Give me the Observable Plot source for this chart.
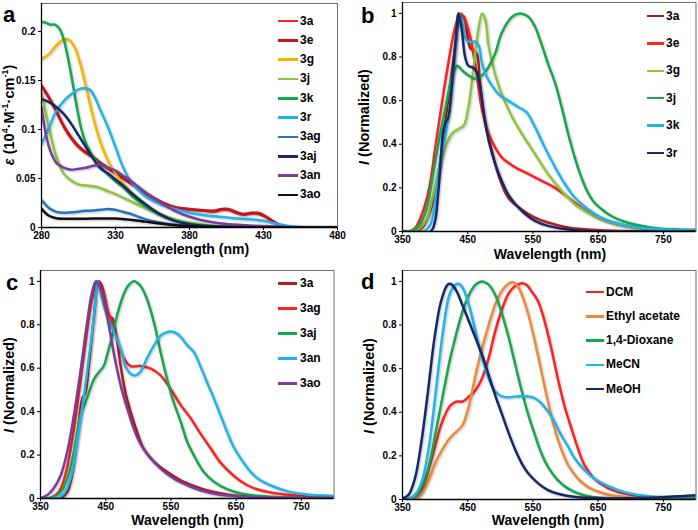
<!DOCTYPE html>
<html><head><meta charset="utf-8">
<script src="https://cdn.jsdelivr.net/npm/d3@7"></script>
<script src="https://cdn.jsdelivr.net/npm/@observablehq/plot@0.6"></script>
<style>
body{margin:0;background:#fff;}
#fig{position:relative;width:698px;height:530px;overflow:hidden;font-family:"Liberation Sans",Arial,sans-serif;font-weight:bold;color:#000;background:#fff;}
.panel{position:absolute;}
.t{position:absolute;white-space:nowrap;line-height:1;}
.sw{position:absolute;height:2.5px;}
svg g[aria-label=line] path{filter:drop-shadow(1px 1.5px 1px rgba(0,0,0,0.25));}
</style></head><body><div id="fig"></div><script>
// ---------- Panel a: absorption (ε, 10^4 M^-1 cm^-1) ----------
const a_3a  = [[280,0.144],[285,0.132],[290,0.118],[295,0.103],[300,0.091],[305,0.082],[310,0.076],[315,0.071],[320,0.065],[325,0.060],[330,0.055],[335,0.050],[340,0.045],[350,0.035],[360,0.026],[370,0.020],[380,0.018],[390,0.017],[396,0.016],[402,0.018],[406,0.018],[411,0.015],[416,0.013],[421,0.014],[426,0.014],[431,0.011],[436,0.006],[441,0.002],[446,0.0005],[455,0],[480,0]];
const a_3e  = [[280,0.145],[285,0.133],[290,0.119],[295,0.104],[300,0.092],[305,0.083],[310,0.077],[315,0.072],[320,0.066],[325,0.061],[330,0.056],[335,0.051],[340,0.046],[350,0.036],[360,0.027],[370,0.021],[380,0.019],[390,0.0177],[396,0.017],[402,0.019],[406,0.019],[411,0.0162],[416,0.0138],[421,0.0148],[426,0.015],[431,0.012],[436,0.0068],[441,0.0027],[446,0.0007],[455,0],[480,0]];
const a_3g  = [[280,0.172],[285,0.177],[290,0.186],[295,0.192],[298,0.192],[302,0.185],[306,0.168],[310,0.144],[315,0.112],[320,0.086],[325,0.068],[330,0.055],[335,0.045],[340,0.037],[350,0.024],[360,0.014],[370,0.007],[380,0.0035],[400,0.001],[430,0],[480,0]];
const a_3j  = [[280,0.138],[285,0.102],[290,0.072],[295,0.055],[300,0.048],[305,0.044],[310,0.043],[315,0.042],[320,0.040],[325,0.037],[330,0.034],[340,0.027],[350,0.020],[360,0.0136],[370,0.0085],[380,0.005],[390,0.0027],[400,0.001],[420,0],[480,0]];
const a_3k  = [[280,0.210],[283,0.209],[286,0.207],[289,0.207],[292,0.203],[295,0.192],[298,0.172],[301,0.148],[304,0.122],[307,0.100],[310,0.086],[313,0.077],[316,0.070],[320,0.062],[325,0.054],[331,0.046],[336,0.040],[342,0.031],[348,0.024],[354,0.018],[360,0.013],[366,0.009],[376,0.005],[387,0.0024],[400,0.0012],[420,0.0005],[450,0],[480,0]];
const a_3r  = [[280,0.085],[285,0.102],[290,0.119],[295,0.129],[300,0.136],[305,0.141],[310,0.142],[313,0.140],[316,0.133],[320,0.119],[325,0.102],[330,0.082],[335,0.062],[340,0.048],[350,0.032],[360,0.024],[370,0.019],[380,0.015],[390,0.0126],[400,0.011],[410,0.0095],[420,0.0085],[430,0.0068],[440,0.0034],[450,0.001],[465,0],[480,0]];
const a_3ag = [[280,0.028],[285,0.020],[290,0.016],[295,0.015],[300,0.0155],[310,0.017],[320,0.018],[325,0.019],[330,0.018],[335,0.016],[340,0.014],[350,0.0085],[360,0.005],[370,0.0027],[380,0.0014],[400,0.0003],[480,0]];
const a_3aj = [[280,0.131],[285,0.128],[290,0.123],[295,0.116],[300,0.106],[305,0.094],[310,0.082],[315,0.070],[320,0.060],[325,0.055],[330,0.049],[335,0.043],[340,0.036],[350,0.024],[360,0.0136],[370,0.0068],[380,0.0034],[400,0.0007],[420,0],[480,0]];
const a_3an = [[280,0.123],[283,0.095],[286,0.078],[290,0.066],[295,0.061],[300,0.059],[305,0.060],[310,0.061],[315,0.063],[320,0.064],[325,0.061],[330,0.058],[335,0.053],[340,0.048],[350,0.036],[360,0.026],[370,0.017],[380,0.011],[390,0.0068],[400,0.0044],[410,0.003],[420,0.002],[440,0.001],[460,0],[480,0]];
const a_3ao = [[280,0.019],[285,0.012],[290,0.0095],[300,0.009],[310,0.009],[320,0.0092],[330,0.0092],[340,0.008],[350,0.006],[360,0.004],[370,0.0024],[380,0.0014],[400,0.0005],[480,0]];
const a_names  = ["3a","3e","3g","3j","3k","3r","3ag","3aj","3an","3ao"];
const a_colors = ["#ff1f1f","#c1161d","#f7b500","#8cc63e","#14a84b","#1fb4ec","#2473c3","#16286a","#7a3c9c","#111111"];
const a_series = [a_3a,a_3e,a_3g,a_3j,a_3k,a_3r,a_3ag,a_3aj,a_3an,a_3ao];
const a_xticks = [280,330,380,430,480];
const a_yticks = [0,0.05,0.1,0.15,0.2];

// ---------- Panel b: emission ----------
const b_3a = [[350,0],[370,0.003],[380,0.018],[391,0.08],[401,0.2],[411,0.39],[421,0.63],[431,0.85],[439,0.99],[444,0.985],[449,0.91],[454,0.84],[459,0.83],[464,0.815],[469,0.68],[477,0.49],[487,0.37],[497,0.26],[512,0.156],[533,0.10],[553,0.064],[573,0.041],[599,0.021],[624,0.011],[675,0.003],[800,0]];
const b_3e = [[350,0],[363,0.003],[370,0.018],[380,0.08],[391,0.2],[401,0.40],[411,0.60],[421,0.785],[431,0.94],[439,1.0],[446,0.97],[454,0.89],[462,0.755],[472,0.555],[482,0.448],[492,0.386],[502,0.34],[523,0.294],[543,0.264],[563,0.233],[584,0.2],[604,0.156],[624,0.11],[644,0.072],[665,0.046],[695,0.026],[726,0.014],[776,0.006],[800,0.003]];
const b_3g = [[350,0],[370,0.003],[386,0.05],[396,0.156],[406,0.29],[416,0.39],[426,0.45],[436,0.47],[444,0.486],[451,0.57],[459,0.755],[467,0.94],[472,1.0],[477,0.97],[482,0.85],[492,0.72],[502,0.63],[518,0.525],[533,0.448],[553,0.356],[573,0.264],[594,0.187],[614,0.126],[634,0.087],[655,0.057],[675,0.037],[705,0.018],[746,0.009],[800,0.004]];
const b_3j = [[350,0],[363,0.003],[375,0.026],[386,0.095],[396,0.25],[406,0.42],[416,0.57],[426,0.71],[434,0.76],[441,0.74],[451,0.716],[462,0.70],[472,0.716],[482,0.755],[492,0.816],[502,0.91],[518,0.985],[530,1.0],[543,0.985],[553,0.94],[563,0.86],[573,0.77],[584,0.68],[594,0.57],[604,0.448],[614,0.34],[624,0.25],[634,0.18],[644,0.133],[655,0.103],[665,0.08],[680,0.057],[700,0.037],[726,0.021],[751,0.012],[800,0.008]];
const b_3k = [[350,0],[383,0.002],[393,0.034],[401,0.156],[408,0.325],[416,0.448],[424,0.60],[431,0.83],[436,1.0],[441,0.97],[446,0.89],[451,0.87],[462,0.87],[467,0.85],[472,0.77],[479,0.71],[487,0.67],[497,0.63],[512,0.60],[528,0.57],[540,0.547],[553,0.48],[568,0.386],[584,0.294],[599,0.218],[614,0.156],[634,0.103],[655,0.064],[675,0.041],[705,0.021],[746,0.009],[800,0.005]];
const b_3r = [[350,0],[393,0],[400,0.05],[404,0.15],[408,0.30],[412,0.45],[416,0.50],[420,0.52],[426,0.68],[431,0.86],[436,1.0],[441,0.92],[446,0.80],[451,0.76],[459,0.75],[464,0.73],[469,0.66],[474,0.555],[482,0.42],[492,0.31],[502,0.233],[512,0.17],[523,0.126],[538,0.08],[553,0.049],[573,0.026],[599,0.011],[624,0.003],[650,0],[800,0]];
const b_names  = ["3a","3e","3g","3j","3k","3r"];
const b_colors = ["#b41c1e","#ff2020","#8cc63e","#14a84b","#1fb4ec","#16286a"];
const b_series = [b_3a,b_3e,b_3g,b_3j,b_3k,b_3r];

// ---------- Panel c: emission ----------
const c_3a  = [[350,0],[381,0.003],[391,0.03],[399,0.12],[406,0.276],[414,0.46],[419,0.49],[424,0.61],[432,0.84],[439,1.0],[444,0.98],[450,0.905],[455,0.84],[460,0.83],[465,0.77],[473,0.61],[480,0.49],[488,0.40],[498,0.307],[508,0.23],[524,0.17],[544,0.123],[565,0.084],[585,0.058],[605,0.038],[636,0.018],[672,0.008],[800,0.002]];
const c_3ag = [[350,0],[365,0.003],[378,0.03],[388,0.107],[399,0.276],[409,0.49],[419,0.72],[429,0.92],[437,1.0],[444,0.966],[452,0.874],[460,0.81],[467,0.736],[478,0.644],[488,0.61],[503,0.61],[519,0.598],[534,0.567],[549,0.506],[565,0.43],[580,0.37],[595,0.30],[611,0.23],[626,0.165],[646,0.105],[667,0.061],[687,0.038],[713,0.023],[738,0.015],[774,0.009],[800,0.005]];
const c_3aj = [[350,0],[365,0.003],[381,0.03],[391,0.092],[401,0.215],[411,0.38],[421,0.46],[432,0.55],[439,0.58],[447,0.61],[452,0.66],[460,0.75],[467,0.84],[475,0.92],[483,0.974],[493,1.0],[503,0.98],[513,0.92],[524,0.81],[534,0.675],[544,0.55],[554,0.445],[565,0.353],[575,0.26],[585,0.20],[600,0.123],[616,0.077],[636,0.043],[657,0.023],[687,0.011],[723,0.005],[800,0.002]];
const c_3an = [[350,0],[376,0.003],[386,0.023],[396,0.092],[406,0.26],[416,0.46],[424,0.644],[432,0.84],[438,1.0],[444,0.92],[452,0.84],[462,0.77],[473,0.69],[480,0.61],[488,0.575],[496,0.567],[503,0.583],[513,0.644],[524,0.705],[534,0.75],[544,0.767],[554,0.767],[565,0.744],[575,0.705],[585,0.675],[595,0.61],[605,0.537],[616,0.46],[626,0.383],[636,0.307],[646,0.238],[657,0.184],[672,0.123],[687,0.084],[708,0.054],[728,0.034],[759,0.018],[800,0.012]];
const c_3ao = [[350,0.003],[360,0.015],[370,0.046],[381,0.107],[391,0.215],[401,0.38],[411,0.58],[421,0.80],[429,0.95],[435,1.0],[442,0.966],[452,0.84],[462,0.675],[473,0.52],[483,0.414],[493,0.322],[503,0.253],[519,0.184],[534,0.138],[554,0.092],[575,0.061],[595,0.038],[621,0.02],[657,0.009],[697,0.005],[800,0.003]];
const c_names  = ["3a","3ag","3aj","3an","3ao"];
const c_colors = ["#b41c1e","#ff2020","#14a84b","#1fb4ec","#7a3c9c"];
const c_series = [c_3a,c_3ag,c_3aj,c_3an,c_3ao];

// ---------- Panel d: solvent dependence ----------
const d_DCM  = [[350,0],[369,0.002],[379,0.035],[389,0.127],[399,0.234],[409,0.341],[417,0.40],[424,0.433],[432,0.449],[442,0.449],[452,0.472],[462,0.502],[472,0.556],[482,0.648],[492,0.77],[503,0.877],[513,0.946],[523,0.98],[533,0.992],[540,0.985],[548,0.954],[558,0.908],[568,0.816],[578,0.694],[588,0.556],[598,0.433],[609,0.326],[619,0.234],[629,0.158],[644,0.096],[664,0.054],[689,0.028],[715,0.015],[750,0.009],[800,0.006]];
const d_EA   = [[350,0],[369,0.002],[381,0.035],[391,0.096],[401,0.173],[412,0.234],[422,0.28],[432,0.31],[442,0.341],[452,0.433],[462,0.571],[472,0.694],[482,0.80],[492,0.893],[503,0.96],[513,0.99],[518,0.997],[525,0.985],[533,0.939],[543,0.847],[553,0.724],[563,0.587],[573,0.449],[583,0.326],[593,0.234],[604,0.158],[619,0.096],[634,0.058],[654,0.032],[674,0.017],[705,0.008],[800,0.004]];
const d_Diox = [[350,0],[359,0.002],[371,0.02],[381,0.066],[391,0.158],[401,0.31],[412,0.48],[422,0.632],[432,0.755],[442,0.862],[452,0.939],[462,0.985],[472,1.0],[482,0.985],[492,0.939],[503,0.847],[513,0.74],[523,0.617],[533,0.495],[543,0.387],[553,0.296],[563,0.211],[573,0.15],[588,0.089],[604,0.05],[624,0.023],[649,0.009],[699,0.005],[800,0.003]];
const d_MeCN = [[350,0],[359,0.002],[371,0.028],[381,0.096],[391,0.25],[401,0.495],[412,0.77],[422,0.94],[431,0.985],[437,0.988],[444,0.96],[452,0.89],[462,0.77],[472,0.648],[482,0.556],[492,0.495],[503,0.472],[513,0.469],[523,0.472],[533,0.473],[543,0.472],[553,0.464],[563,0.441],[573,0.403],[583,0.357],[593,0.296],[604,0.242],[614,0.188],[629,0.135],[644,0.096],[664,0.063],[689,0.035],[715,0.02],[745,0.012],[800,0.015]];
const d_MeOH = [[350,0.005],[359,0.02],[369,0.096],[379,0.265],[389,0.495],[399,0.74],[409,0.908],[419,0.985],[424,0.988],[432,0.96],[442,0.89],[452,0.816],[462,0.74],[472,0.663],[482,0.571],[492,0.479],[503,0.387],[513,0.303],[523,0.227],[533,0.165],[543,0.119],[558,0.074],[573,0.043],[593,0.023],[624,0.009],[674,0.005],[725,0.008],[800,0.02]];
const d_names  = ["DCM","Ethyl acetate","1,4-Dioxane","MeCN","MeOH"];
const d_colors = ["#ff2020","#f0883a","#14a84b","#1fb4ec","#16286a"];
const d_series = [d_DCM,d_EA,d_Diox,d_MeCN,d_MeOH];

const em_xticks = [350,450,550,650,750];
const em_yticks = [0,0.2,0.4,0.6,0.8,1];
const x_title = "Wavelength (nm)";
const y_title_em = "(Normalized)";

// ---------- drawing ----------
const fig = document.getElementById("fig");
function makePanel(cfg) {
  const marks = [Plot.frame({stroke: "#6e6e6e", strokeWidth: 1})];
  cfg.series.forEach((s, i) => {
    marks.push(Plot.line(s, {x: d => d[0], y: d => d[1], stroke: cfg.colors[i], strokeWidth: 2.5, curve: "catmull-rom", clip: true}));
  });
  marks.push(Plot.ruleX([cfg.xDomain[0]], {stroke: "#000", strokeWidth: 1.3}));
  marks.push(Plot.ruleY([0], {stroke: "#000", strokeWidth: 1.3}));
  marks.push(Plot.axisX({ticks: cfg.xTicks, tickSize: 3, tickPadding: 1.5, label: null, fontSize: 10, fontWeight: "bold"}));
  marks.push(Plot.axisY({ticks: cfg.yTicks, tickSize: 3, tickPadding: 3, label: null, fontSize: 10, fontWeight: "bold", tickFormat: d => String(d)}));
  const svg = Plot.plot({
    width: 349, height: 265,
    marginLeft: cfg.m[0], marginRight: cfg.m[1], marginTop: cfg.m[2], marginBottom: cfg.m[3],
    x: {domain: cfg.xDomain, label: null},
    y: {domain: cfg.yDomain, label: null},
    style: {fontFamily: "'Liberation Sans', Arial, sans-serif", color: "#000", background: "transparent", overflow: "visible"},
    marks
  });
  const wrap = document.createElement("div");
  wrap.className = "panel";
  wrap.style.left = cfg.left + "px";
  wrap.style.top = cfg.top + "px";
  wrap.appendChild(svg);
  fig.appendChild(wrap);
}
function text(html, left, top, size, extra) {
  const d = document.createElement("div");
  d.className = "t";
  d.innerHTML = html;
  d.style.left = left + "px";
  d.style.top = top + "px";
  d.style.fontSize = size + "px";
  if (extra) Object.assign(d.style, extra);
  fig.appendChild(d);
  return d;
}
function legend(names, colors, x0, x1, tx, y0, dy) {
  names.forEach((n, i) => {
    const y = y0 + i * dy;
    const sw = document.createElement("div");
    sw.className = "sw";
    sw.style.left = x0 + "px"; sw.style.width = (x1 - x0) + "px";
    sw.style.top = (y - 1.25) + "px"; sw.style.background = colors[i];
    fig.appendChild(sw);
    text(n, tx, y - 6.5, 12);
  });
}
function xTitle(cx, baseline) {
  text(x_title, cx - 100, baseline - 11.9, 14, {width: "200px", textAlign: "center"});
}
function yTitle(html, cx, cy) {
  text(html, cx, cy, 14.5, {transform: "translate(-50%,-50%) rotate(-90deg)"});
}

makePanel({left: 0, top: 0, m: [41, 12, 3, 38], xDomain: [280, 480], yDomain: [0, 0.2286], xTicks: a_xticks, yTicks: a_yticks, series: a_series, colors: a_colors});
makePanel({left: 349, top: 0, m: [53, 2.5, 2, 34], xDomain: [350, 800], yDomain: [0, 1.05], xTicks: em_xticks, yTicks: em_yticks, series: b_series, colors: b_colors});
makePanel({left: 0, top: 265, m: [40, 15.5, 5, 32], xDomain: [350, 800], yDomain: [0, 1.05], xTicks: em_xticks, yTicks: em_yticks, series: c_series, colors: c_colors});
makePanel({left: 349, top: 265, m: [53, 2.5, 5, 31], xDomain: [350, 800], yDomain: [0, 1.05], xTicks: em_xticks, yTicks: em_yticks, series: d_series, colors: d_colors});

legend(a_names, a_colors, 278, 298, 300, 21, 19.33);
legend(b_names, b_colors, 647, 664, 666, 16, 27.4);
legend(c_names, c_colors, 278, 297, 300, 283.3, 25);
legend(d_names, d_colors, 586, 604, 606, 292, 24.25);

xTitle(193, 254);
xTitle(550, 258.5);
xTitle(187.5, 524.5);
xTitle(548, 524.5);

yTitle("<i>ε</i> (10<sup style='font-size:9px'>4</sup>·M<sup style='font-size:9px'>-1</sup>·cm<sup style='font-size:9px'>-1</sup>)", 9, 115);
yTitle("<i>I</i> " + y_title_em, 364, 117);
yTitle("<i>I</i> " + y_title_em, 9, 385);
yTitle("<i>I</i> " + y_title_em, 369, 386);

text("a", 3, 4, 22);
text("b", 361, 5, 22);
text("c", 6, 272, 22);
text("d", 361, 271, 22);
</script></body></html>
